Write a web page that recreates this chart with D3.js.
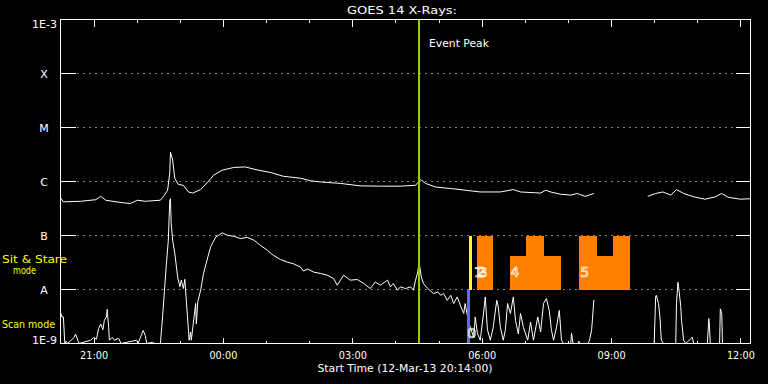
<!DOCTYPE html>
<html>
<head>
<meta charset="utf-8">
<script src="https://cdn.jsdelivr.net/npm/d3@7"></script>
<style>
  body { margin: 0; background: #000; }
  svg { display: block; }
  text { font-family: "DejaVu Sans", sans-serif; font-size: 11px; }
</style>
</head>
<body>
<div id="container"></div>
<script>
// times are minutes after the start time (12-Mar-13 20:14 UT), flux in W/m^2
const longChannel = [
  [0,5.0e-7],[4,4.2e-7],[28,4.3e-7],[49,4.6e-7],[56,5.3e-7],[63,4.5e-7],[83,4.1e-7],[97,3.9e-7],
  [107,4.5e-7],[118,4.3e-7],[139,4.5e-7],[143,5.2e-7],[149,6.9e-7],[152,1.43e-6],[153,3.5e-6],
  [156,2.5e-6],[159,1.15e-6],[164,8.8e-7],[171,8.5e-7],[178,6.4e-7],[184,6.1e-7],[195,7.1e-7],
  [205,9.8e-7],[213,1.31e-6],[225,1.62e-6],[241,1.82e-6],[257,1.86e-6],[275,1.62e-6],[292,1.47e-6],
  [310,1.25e-6],[334,1.15e-6],[348,1.03e-6],[362,9.8e-7],[390,9.2e-7],[417,8.3e-7],[445,8.2e-7],
  [473,8.2e-7],[494,8.5e-7],[498,9.8e-7],[501,1.09e-6],[508,9.2e-7],[522,7.9e-7],[543,7.4e-7],
  [563,6.9e-7],[584,6.4e-7],[612,6.4e-7],[630,7.1e-7],[640,6.4e-7],[668,6.1e-7],[675,6.9e-7],
  [682,6.4e-7],[696,5.8e-7],[710,5.6e-7],[719,6.0e-7],[730,5.3e-7],[742,6.0e-7],[780,null],
  [817,5.3e-7],[828,6.0e-7],[838,6.4e-7],[849,5.6e-7],[857,7.1e-7],[867,6.0e-7],[881,5.2e-7],
  [897,4.7e-7],[911,5.2e-7],[920,6.0e-7],[929,5.1e-7],[946,4.7e-7],[960,4.8e-7]
];

const shortChannel = [
  [0,3.8e-9],[2,3.1e-9],[4,3.1e-9],[6,1e-9],[8,1.1e-9],[10,1e-9],[19,1.3e-9],[21,1.5e-9],[24,1.15e-9],
  [26,1e-9],[42,1.15e-9],[46,1.3e-9],[50,1.2e-9],[53,1.9e-9],[56,2.3e-9],[59,1.8e-9],[61,2.7e-9],
  [64,3.1e-9],[65,4.3e-9],[67,2.0e-9],[68,1.15e-9],[72,1.3e-9],[75,1.15e-9],[81,1.25e-9],[84,1e-9],
  [106,1.15e-9],[108,1e-9],[115,1.75e-9],[118,1.4e-9],[120,1e-9],[128,1.05e-9],[131,1e-9],[139,1e-9],
  [142,3.1e-9],[145,1.12e-8],[147,2.6e-8],[150,8.2e-8],[152,4.5e-7],[153,4.8e-7],[154,1.69e-7],
  [156,8.2e-8],[159,4.7e-8],[163,1.71e-8],[166,1.12e-8],[168,1.49e-8],[171,1.04e-8],[173,1.55e-8],
  [175,6.3e-9],[178,1.8e-9],[179,1.15e-9],[181,1.64e-9],[182,1.15e-9],[185,2.5e-9],[188,5.5e-9],
  [189,2.3e-9],[191,5.9e-9],[195,9.7e-9],[199,1.98e-8],[205,4.0e-8],[209,6.2e-8],[216,9.4e-8],
  [220,1.01e-7],[225,1.12e-7],[232,1.01e-7],[241,9.7e-8],[250,8.8e-8],[260,9.2e-8],[269,8.2e-8],
  [278,6.6e-8],[288,5.3e-8],[296,4.3e-8],[306,3.6e-8],[316,3.2e-8],[324,3.0e-8],[334,2.6e-8],
  [338,2.2e-8],[344,2.4e-8],[352,2.1e-8],[362,1.98e-8],[371,1.84e-8],[380,1.6e-8],[385,1.2e-8],
  [394,1.84e-8],[403,1.49e-8],[413,1.53e-8],[422,1.29e-8],[431,1.04e-8],[438,1.38e-8],[445,1.2e-8],
  [455,1.49e-8],[459,1.12e-8],[463,1.29e-8],[469,9.7e-9],[473,1.12e-8],[480,1.04e-8],[487,1.12e-8],
  [491,9.7e-9],[494,1.49e-8],[497,2.1e-8],[499,3.2e-8],[502,1.71e-8],[505,1.29e-8],[511,1.04e-8],
  [519,8.4e-9],[525,9.0e-9],[529,7.8e-9],[533,8.4e-9],[538,6.3e-9],[543,7.8e-9],[547,5.5e-9],
  [552,7.3e-9],[557,4.8e-9],[561,3.6e-9],[563,5.5e-9],[566,3.3e-9],[570,2.0e-9],[575,1.3e-9],
  [577,3.1e-9],[580,1.55e-9],[584,1.15e-9],[589,4.1e-9],[591,7.3e-9],[594,1.8e-9],[598,1.15e-9],
  [602,2.0e-9],[607,6.3e-9],[609,4.8e-9],[612,2.0e-9],[616,1.15e-9],[619,1.8e-9],[622,5.5e-9],
  [626,3.6e-9],[630,7.3e-9],[633,2.7e-9],[637,1.5e-9],[640,3.6e-9],[644,2.0e-9],[650,1.15e-9],
  [654,2.5e-9],[658,1.15e-9],[664,3.1e-9],[668,1.64e-9],[672,5.5e-9],[676,6.8e-9],[680,4.1e-9],
  [683,1.8e-9],[686,1.15e-9],[690,2.0e-9],[694,4.1e-9],[697,1.15e-9],[700,1e-9],[710,1e-9],
  [711,1.55e-9],[713,1e-9],[720,1e-9],[721,1.1e-9],[723,1e-9],[734,1e-9],[736,1.15e-9],[739,1.8e-9],
  [742,6.3e-9],[743,6.3e-9],[780,null],[817,1e-9],[826,1e-9],[828,7.3e-9],[829,7.8e-9],[832,5.5e-9],
  [834,3.1e-9],[835,1.8e-9],[836,1.15e-9],[839,1e-9],[856,1e-9],[857,5.5e-9],[859,1.36e-8],
  [860,1.12e-8],[863,4.8e-9],[864,2.7e-9],[867,1.15e-9],[870,1e-9],[879,1.3e-9],[881,1e-9],
  [900,1e-9],[902,2.9e-9],[903,2.0e-9],[904,1e-9],[917,1e-9],[918,4.4e-9],[920,3.6e-9],[921,1e-9],
  [960,1e-9]
];

// observation blocks: [start, end, top flux]
const sitStareBlocks = [[579,602,1e-7],[625,648,4.1e-8],[648,673,1e-7],[673,696,4.1e-8],
                        [722,747,1e-7],[747,768,4.1e-8],[768,793,1e-7]];
const sitStareMarker = [[569,572,1e-7],[572,573,4.1e-8]];
const scanBlocks = [[566,570,1e-8]];
const blockLabels = [["1",575],["2",579],["3",582],["4",626],["5",723]];
const scanLabels = [["0",566]];
const eventPeak = 499;

const levelValues = [1e-3,1e-4,1e-5,1e-6,1e-7,1e-8,1e-9];
const levelLabels = ["1E-3","X","M","C","B","A","1E-9"];

const start = new Date(Date.UTC(2013, 2, 12, 20, 14));
const t = m => new Date(start.getTime() + m * 60000);

const width = 768, height = 384;
const x = d3.scaleUtc().domain([t(0), t(960)]).range([60.5, 750.5]);
const y = d3.scaleLog().domain([1e-9, 1e-3]).range([343.5, 19.5]);

const svg = d3.select("#container").append("svg")
    .attr("width", width).attr("height", height)
    .style("background", "#000");

// dotted class levels
svg.append("g").selectAll("line")
  .data(levelValues.slice(1, 6))
  .join("line")
    .attr("x1", 77.5).attr("x2", 735)
    .attr("y1", d => y(d)).attr("y2", d => y(d))
    .attr("stroke", "#fff").attr("stroke-dasharray", "1 5");

// left / right ticks on the levels
const yTicks = svg.append("g").attr("stroke", "#fff").attr("shape-rendering", "crispEdges");
yTicks.selectAll(".l").data(levelValues.slice(1, 6)).join("line")
    .attr("x1", 60.5).attr("x2", 75.5).attr("y1", d => y(d)).attr("y2", d => y(d));
yTicks.selectAll(".r").data(levelValues.slice(1, 6)).join("line")
    .attr("x1", 735.5).attr("x2", 750.5).attr("y1", d => y(d)).attr("y2", d => y(d));

// time axes
function styleAxis(g) {
  g.select(".domain").remove();
  g.selectAll("line").attr("stroke", "#fff").attr("shape-rendering", "crispEdges");
  g.selectAll("text").attr("fill", "#fff")
    .attr("textLength", 28).attr("lengthAdjust", "spacingAndGlyphs")
    .style("font-family", "DejaVu Sans, sans-serif").style("font-size", "11px");
}
svg.append("g").attr("transform", "translate(0,343.5)")
  .call(d3.axisBottom(x).ticks(d3.utcHour.every(3)).tickFormat(d3.utcFormat("%H:%M"))
    .tickSizeInner(-6).tickSizeOuter(0).tickPadding(8))
  .call(styleAxis);
svg.append("g").attr("transform", "translate(0,343.5)")
  .call(d3.axisBottom(x).ticks(d3.utcHour.every(1)).tickFormat("").tickSizeInner(-3).tickSizeOuter(0))
  .call(styleAxis);
svg.append("g").attr("transform", "translate(0,19.5)")
  .call(d3.axisTop(x).ticks(d3.utcHour.every(3)).tickFormat("").tickSizeInner(-7).tickSizeOuter(0))
  .call(styleAxis);
svg.append("g").attr("transform", "translate(0,19.5)")
  .call(d3.axisTop(x).ticks(d3.utcHour.every(1)).tickFormat("").tickSizeInner(-3).tickSizeOuter(0))
  .call(styleAxis);

// y labels
svg.append("g").selectAll("text")
  .data(levelValues)
  .join("text")
    .attr("x", (d, i) => (i === 0 || i === 6) ? 57 : 44)
    .attr("y", (d, i) => y(d) + (i === 0 ? 8 : i === 6 ? 0 : 4))
    .attr("text-anchor", (d, i) => (i === 0 || i === 6) ? "end" : "middle")
    .attr("fill", "#fff")
    .text((d, i) => levelLabels[i]);

// curves
const line = d3.line()
    .defined(d => d[1] != null)
    .x(d => x(t(d[0])))
    .y(d => y(Math.max(d[1], 1e-9)));

svg.append("path").datum(longChannel)
    .attr("d", line).attr("fill", "none").attr("stroke", "#fff").attr("stroke-width", 1);
svg.append("path").datum(shortChannel)
    .attr("d", line).attr("fill", "none").attr("stroke", "#fff").attr("stroke-width", 1);

// observation blocks
function blocks(data, base, color) {
  svg.append("g").attr("shape-rendering", "crispEdges").selectAll("rect")
    .data(data)
    .join("rect")
      .attr("x", d => Math.round(x(t(d[0]))))
      .attr("width", d => Math.round(x(t(d[1]))) - Math.round(x(t(d[0]))))
      .attr("y", d => Math.round(y(d[2])))
      .attr("height", d => Math.round(y(base)) - Math.round(y(d[2])))
      .attr("fill", color);
}
blocks(sitStareBlocks, 1e-8, "#ff8000");
blocks(sitStareMarker, 1e-8, "#ffff00");
blocks(scanBlocks, 1e-9, "#6666ff");

svg.append("g").selectAll("text")
  .data(blockLabels.concat(scanLabels))
  .join("text")
    .attr("x", d => x(t(d[1])))
    .attr("y", d => d[0] === "0" ? 338 : 277)
    .style("font-size", "14px")
    .style("fill", "none").style("stroke", "#fff").style("stroke-width", 0.7)
    .text(d => d[0]);

// event peak line
svg.append("line")
    .attr("x1", Math.round(x(t(eventPeak)))).attr("x2", Math.round(x(t(eventPeak))))
    .attr("y1", 19.5).attr("y2", 343.5)
    .attr("stroke", "#99cc00").attr("stroke-width", 2)
    .attr("shape-rendering", "crispEdges");
svg.append("text").attr("x", 429).attr("y", 47).attr("fill", "#fff")
    .attr("textLength", 60).attr("lengthAdjust", "spacingAndGlyphs").text("Event Peak");

// frame
svg.append("rect")
    .attr("x", 60.5).attr("y", 19.5).attr("width", 690).attr("height", 324)
    .attr("fill", "none").attr("stroke", "#fff").attr("shape-rendering", "crispEdges");

// titles
svg.append("text").attr("x", 402).attr("y", 14).attr("text-anchor", "middle").attr("fill", "#fff")
    .attr("textLength", 110).attr("lengthAdjust", "spacingAndGlyphs").text("GOES 14 X-Rays:");
svg.append("text").attr("x", 405).attr("y", 372).attr("text-anchor", "middle").attr("fill", "#fff")
    .attr("textLength", 175).attr("lengthAdjust", "spacingAndGlyphs").text("Start Time (12-Mar-13 20:14:00)");

// mode labels
svg.append("text").attr("x", 2).attr("y", 263).attr("fill", "#ffff00")
    .attr("textLength", 65).attr("lengthAdjust", "spacingAndGlyphs").text("Sit & Stare");
svg.append("text").attr("x", 13).attr("y", 274).attr("fill", "#ffff00")
    .attr("textLength", 23).attr("lengthAdjust", "spacingAndGlyphs").text("mode");
svg.append("text").attr("x", 2).attr("y", 328).attr("fill", "#ffff00")
    .attr("textLength", 53).attr("lengthAdjust", "spacingAndGlyphs").text("Scan mode");
</script>
</body>
</html>
